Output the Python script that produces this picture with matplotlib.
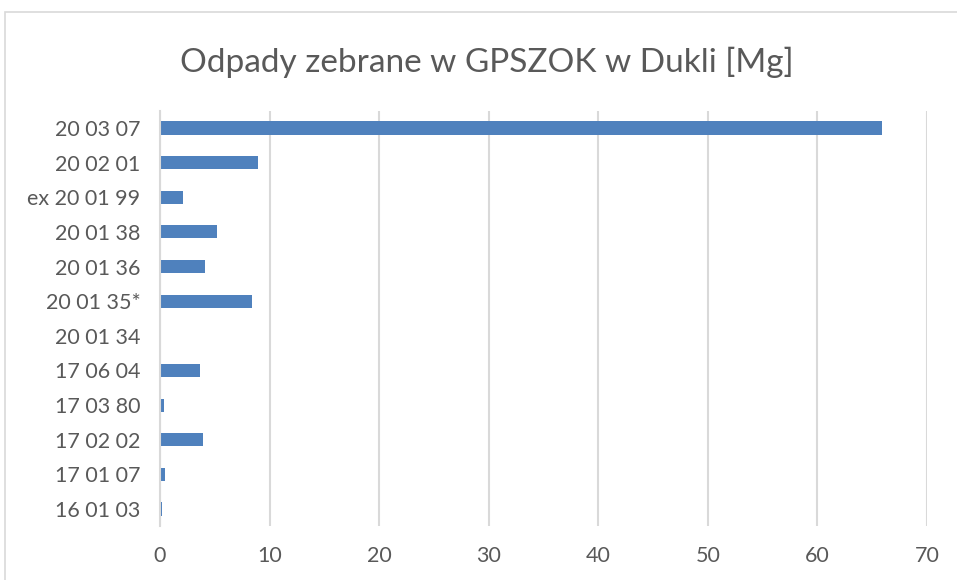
import matplotlib
matplotlib.use("Agg")
import matplotlib.pyplot as plt
from matplotlib.patches import Rectangle

categories = ["16 01 03", "17 01 07", "17 02 02", "17 03 80", "17 06 04", "20 01 34",
              "20 01 35*", "20 01 36", "20 01 38", "ex 20 01 99", "20 02 01", "20 03 07"]
values = [0.2, 0.5, 3.9, 0.4, 3.65, 0.08, 8.4, 4.1, 5.2, 2.1, 8.95, 65.9]
xticks = [0, 10, 20, 30, 40, 50, 60, 70]
title = "Odpady zebrane w GPSZOK w Dukli [Mg]"

plt.rcParams['font.family'] = ['Lato', 'DejaVu Sans']
txt = '#595959'
grid = '#d9d9d9'

fig = plt.figure(figsize=(9.57, 5.80), dpi=100)
fig.patches.append(Rectangle((5/957, -5/580), 960/957, 573/580, transform=fig.transFigure,
                             fill=False, edgecolor=grid, lw=1.2))
ax = fig.add_axes([160/957, 1-526.4/580, 767/957, (526.4-110.6)/580])
y = list(range(len(categories)))
ax.barh(y, values, height=0.38, color='#4F81BD', zorder=3)
ax.set_ylim(-0.5, len(categories)-0.5)
ax.set_xlim(0, 70)
ax.set_xticks(xticks)
ax.set_xticklabels([str(t) for t in xticks])
ax.set_yticks(y)
ax.set_yticklabels(categories)
ax.grid(axis='x', color=grid, lw=1.5, zorder=0)
for s in ['top', 'right', 'bottom']:
    ax.spines[s].set_visible(False)
ax.spines['left'].set_color(grid)
ax.spines['left'].set_linewidth(1.5)
ax.spines['left'].set_zorder(4)
ax.tick_params(axis='both', length=0, labelsize=15.5, colors=txt)
ax.tick_params(axis='y', pad=14)
ax.tick_params(axis='x', pad=14)
fig.text(487/957, 1-62/580, title, ha='center', va='center', fontsize=24, color=txt)
fig.savefig('out.png', dpi=100)
